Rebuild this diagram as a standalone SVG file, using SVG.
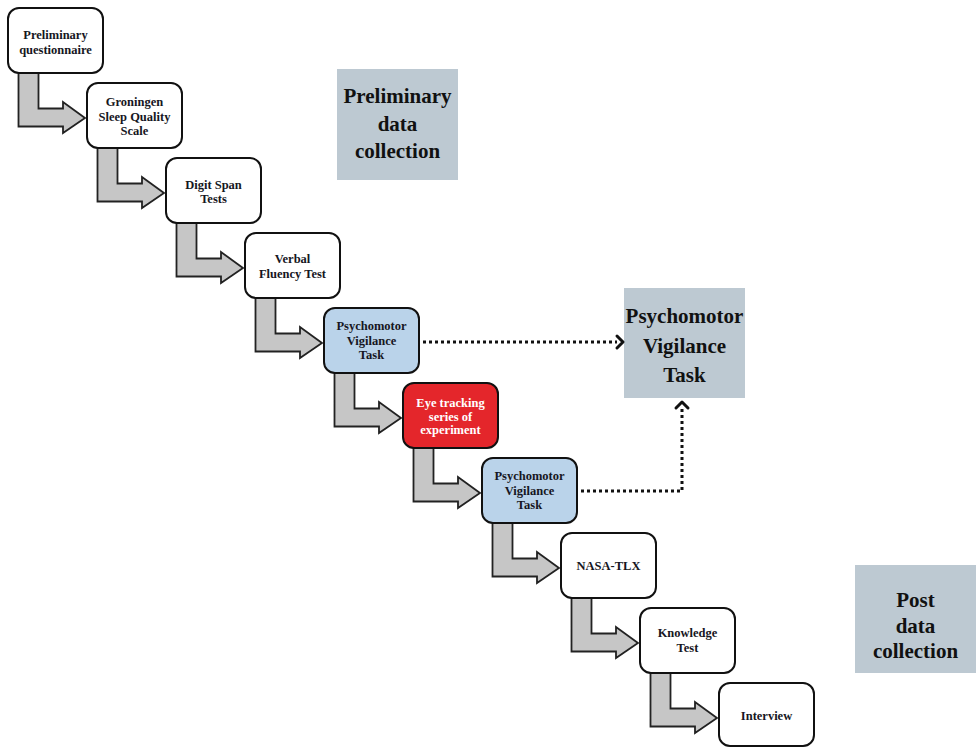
<svg xmlns="http://www.w3.org/2000/svg" xmlns:xlink="http://www.w3.org/1999/xlink" width="976" height="748" viewBox="0 0 976 748">
<style>
.node{fill:#ffffff;stroke:#111;stroke-width:2}
.pvt{fill:#bad3ea;stroke:#111;stroke-width:2}
.red{fill:#e4262b;stroke:#111;stroke-width:2}
.label{fill:#bdc9d2}
.arrow{fill:#c6c6c6;stroke:#222;stroke-width:1.8;stroke-linejoin:miter}
.t{font-family:"Liberation Serif","Times New Roman",serif;font-weight:bold;font-size:12.5px;fill:#161622;text-anchor:middle}
.tw{fill:#ffffff}
.big{font-family:"Liberation Serif","Times New Roman",serif;font-weight:bold;font-size:21px;fill:#111;text-anchor:middle}
.dot{fill:none;stroke:#111;stroke-width:3;stroke-dasharray:3 3}
.chev{fill:none;stroke:#111;stroke-width:3;stroke-linecap:round;stroke-linejoin:round}
</style>
<defs>
<path id="barrow" class="arrow" d="M10.5,64 L10.5,118.5 L55,118.5 L55,125 L77,110 L55,94 L55,100.5 L30.5,100.5 L30.5,64 Z"/>
</defs>
<rect width="976" height="748" fill="#ffffff"/>
<g id="labels">
<g id="label-preliminary">
<rect class="label" x="337" y="69" width="121" height="111"/>
<text class="big" x="397.5" y="103">Preliminary</text>
<text class="big" x="397.5" y="131">data</text>
<text class="big" x="397.5" y="158">collection</text>
</g>
<g id="label-pvt">
<rect class="label" x="624" y="288" width="121" height="110"/>
<text class="big" x="684.5" y="323">Psychomotor</text>
<text class="big" x="684.5" y="353">Vigilance</text>
<text class="big" x="684.5" y="382">Task</text>
</g>
<g id="label-post">
<rect class="label" x="855" y="565" width="121" height="108"/>
<text class="big" x="915.5" y="607">Post</text>
<text class="big" x="915.5" y="633">data</text>
<text class="big" x="915.5" y="658">collection</text>
</g>
</g>
<g id="connectors">
<use xlink:href="#barrow" transform="translate(8,8)"/>
<use xlink:href="#barrow" transform="translate(87,83)"/>
<use xlink:href="#barrow" transform="translate(166,158)"/>
<use xlink:href="#barrow" transform="translate(245,233)"/>
<use xlink:href="#barrow" transform="translate(324,308)"/>
<use xlink:href="#barrow" transform="translate(403,383)"/>
<use xlink:href="#barrow" transform="translate(482,458)"/>
<use xlink:href="#barrow" transform="translate(561,533)"/>
<use xlink:href="#barrow" transform="translate(640,608)"/>
<path class="dot" d="M423,342 L617,342"/>
<path class="chev" d="M617,336 L623,342 L617,348"/>
<path class="dot" d="M581,491 L682,491 L682,407"/>
<path class="chev" d="M676,408 L682,402 L688,408"/>
</g>
<g id="n1">
<rect class="node" x="8" y="8" width="95" height="65" rx="11"/>
<text class="t" x="55.5" y="39">Preliminary</text>
<text class="t" x="55.5" y="54">questionnaire</text>
</g>
<g id="n2">
<rect class="node" x="87" y="83" width="95" height="65" rx="11"/>
<text class="t" x="134.5" y="106">Groningen</text>
<text class="t" x="134.5" y="121">Sleep Quality</text>
<text class="t" x="134.5" y="135">Scale</text>
</g>
<g id="n3">
<rect class="node" x="166" y="158" width="95" height="65" rx="11"/>
<text class="t" x="213.5" y="189">Digit Span</text>
<text class="t" x="213.5" y="203">Tests</text>
</g>
<g id="n4">
<rect class="node" x="245" y="233" width="95" height="65" rx="11"/>
<text class="t" x="292.5" y="263">Verbal</text>
<text class="t" x="292.5" y="278">Fluency Test</text>
</g>
<g id="n5">
<rect class="pvt" x="324" y="308" width="95" height="65" rx="11"/>
<text class="t" x="371.5" y="330">Psychomotor</text>
<text class="t" x="371.5" y="345">Vigilance</text>
<text class="t" x="371.5" y="359">Task</text>
</g>
<g id="n6">
<rect class="red" x="403" y="383" width="95" height="65" rx="11"/>
<text class="t tw" x="450.5" y="407">Eye tracking</text>
<text class="t tw" x="450.5" y="421">series of</text>
<text class="t tw" x="450.5" y="434">experiment</text>
</g>
<g id="n7">
<rect class="pvt" x="482" y="458" width="95" height="65" rx="11"/>
<text class="t" x="529.5" y="480">Psychomotor</text>
<text class="t" x="529.5" y="495">Vigilance</text>
<text class="t" x="529.5" y="509">Task</text>
</g>
<g id="n8">
<rect class="node" x="561" y="533" width="95" height="65" rx="11"/>
<text class="t" x="608.5" y="570">NASA-TLX</text>
</g>
<g id="n9">
<rect class="node" x="640" y="608" width="95" height="65" rx="11"/>
<text class="t" x="687.5" y="637">Knowledge</text>
<text class="t" x="687.5" y="652">Test</text>
</g>
<g id="n10">
<rect class="node" x="719" y="683" width="95" height="63" rx="11"/>
<text class="t" x="766.5" y="720">Interview</text>
</g>
</svg>
